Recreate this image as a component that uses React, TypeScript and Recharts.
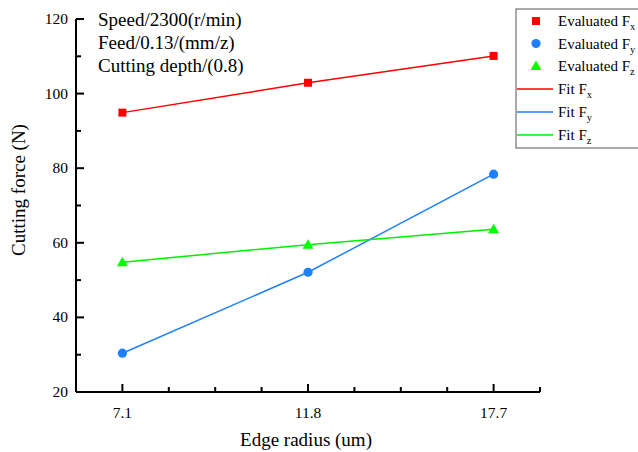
import React from "react";
import { ComposedChart, Line, XAxis, YAxis, Customized } from "recharts";

const categories = ["7.1", "11.8", "17.7"];
const fx = [94.9, 102.9, 110.1];
const fy = [30.4, 52.1, 78.4];
const fz = [54.8, 59.5, 63.6];
const yTicks = [20, 30, 40, 50, 60, 70, 80, 90, 100, 110, 120];
const xTicks = [0, 0.25, 0.5, 0.75, 1, 1.25, 1.5, 1.75, 2, 2.25];
const annotation = ["Speed/2300(r/min)", "Feed/0.13/(mm/z)", "Cutting depth/(0.8)"];

const RED = "#ff0000";
const BLUE = "#1f80ff";
const GREEN = "#00f000";
const GREEN_M = "#00ff00";
const FONT = "'Liberation Serif', 'Times New Roman', serif";

const data = categories.map((c, i) => ({ idx: i, label: c, fx: fx[i], fy: fy[i], fz: fz[i] }));

// tickSize -4, tickMargin 12 => tick anchor is 8px outside the axis line
const YTick = (props: any) => {
  const { payload } = props;
  const x = Number(props.x);
  const y = Number(props.y);
  const v = payload.value;
  const major = v % 20 === 0;
  const ax = x + 8;
  const len = major ? 8 : 5;
  return (
    <g>
      <rect x={ax} y={y - 1} width={len} height={2} fill="#000" />
      {major && (
        <text x={x} y={y} dy={5} textAnchor="end" fontSize={15.5} fontFamily={FONT} fill="#000">
          {v}
        </text>
      )}
    </g>
  );
};

const XTick = (props: any) => {
  const { payload } = props;
  const x = Number(props.x);
  const y = Number(props.y);
  const v = payload.value;
  const major = Number.isInteger(v);
  const ay = y - 8;
  const len = major ? 8 : 5;
  return (
    <g>
      <rect x={x - 1} y={ay - len} width={2} height={len} fill="#000" />
      {major && (
        <text x={x} y={ay + 26} textAnchor="middle" fontSize={15.5} fontFamily={FONT} fill="#000">
          {categories[v]}
        </text>
      )}
    </g>
  );
};

const Square = (props: any) => {
  const { cx, cy } = props;
  if (cx == null || cy == null) return null;
  return <rect x={cx - 4} y={cy - 4} width={8} height={8} fill={RED} />;
};
const Circle = (props: any) => {
  const { cx, cy } = props;
  if (cx == null || cy == null) return null;
  return <circle cx={cx} cy={cy} r={4.6} fill={BLUE} />;
};
const Tri = (props: any) => {
  const { cx, cy } = props;
  if (cx == null || cy == null) return null;
  return <polygon points={`${cx - 5.5},${cy + 4} ${cx + 5.5},${cy + 4} ${cx},${cy - 5.5}`} fill={GREEN_M} />;
};

const Sub = ({ main, sub, x, y }: any) => (
  <text x={x} y={y} fontSize={15} fontFamily={FONT} fill="#000">
    {main}
    <tspan fontSize={10.5} dy={4}>{sub}</tspan>
  </text>
);

const Overlay = () => {
  const lx = 516;
  const rows = [21, 43.5, 66, 89, 112, 135];
  return (
    <g>
      {annotation.map((t, i) => (
        <text key={t} x={98} y={26 + i * 23} fontSize={19} fontFamily={FONT} fill="#000">
          {t}
        </text>
      ))}
      <text x={306} y={446} textAnchor="middle" fontSize={19} fontFamily={FONT} fill="#000">
        Edge radius (um)
      </text>
      <text
        x={0}
        y={0}
        transform="translate(25,190) rotate(-90)"
        textAnchor="middle"
        fontSize={19}
        fontFamily={FONT}
        fill="#000"
      >
        Cutting force (N)
      </text>
      <rect x={lx} y={9} width={140} height={139} fill="#fff" stroke="#555" strokeWidth={1} />
      <rect x={536 - 4} y={rows[0] - 4} width={8} height={8} fill={RED} />
      <circle cx={536} cy={rows[1]} r={4.6} fill={BLUE} />
      <polygon points={`${530.5},${rows[2] + 4} ${541.5},${rows[2] + 4} ${536},${rows[2] - 5.5}`} fill={GREEN_M} />
      <rect x={517} y={rows[3] - 0.75} width={36} height={1.5} fill={RED} />
      <rect x={517} y={rows[4] - 0.75} width={36} height={1.5} fill={BLUE} />
      <rect x={517} y={rows[5] - 0.75} width={36} height={1.5} fill={GREEN} />
      <Sub x={558} y={rows[0] + 5} main="Evaluated F" sub="x" />
      <Sub x={558} y={rows[1] + 5} main="Evaluated F" sub="y" />
      <Sub x={558} y={rows[2] + 5} main="Evaluated F" sub="z" />
      <Sub x={558} y={rows[3] + 5} main="Fit F" sub="x" />
      <Sub x={558} y={rows[4] + 5} main="Fit F" sub="y" />
      <Sub x={558} y={rows[5] + 5} main="Fit F" sub="z" />
    </g>
  );
};

export default function App() {
  return (
    <div style={{ position: "absolute", left: 0, top: 0, width: 638, height: 452, background: "#fff" }}>
      <ComposedChart width={638} height={452} data={data} margin={{ top: 19, right: 98, bottom: 0, left: 0 }}>
        <XAxis
          dataKey="idx"
          type="number"
          domain={[-0.25, 2.25]}
          ticks={xTicks}
          interval={0}
          height={60}
          tickSize={-4}
          tickMargin={12}
          tickLine={false}
          axisLine={{ stroke: "#000", strokeWidth: 2 }}
          tick={<XTick />}
          allowDataOverflow
        />
        <YAxis
          type="number"
          domain={[20, 120]}
          ticks={yTicks}
          interval={0}
          width={76}
          tickSize={-4}
          tickMargin={12}
          tickLine={false}
          axisLine={{ stroke: "#000", strokeWidth: 2 }}
          tick={<YTick />}
          allowDataOverflow
        />
        <Line dataKey="fx" stroke={RED} strokeWidth={1.5} dot={<Square />} activeDot={false} isAnimationActive={false} />
        <Line dataKey="fy" stroke={BLUE} strokeWidth={1.5} dot={<Circle />} activeDot={false} isAnimationActive={false} />
        <Line dataKey="fz" stroke={GREEN} strokeWidth={1.5} dot={<Tri />} activeDot={false} isAnimationActive={false} />
        <Customized component={<Overlay />} />
      </ComposedChart>
    </div>
  );
}
